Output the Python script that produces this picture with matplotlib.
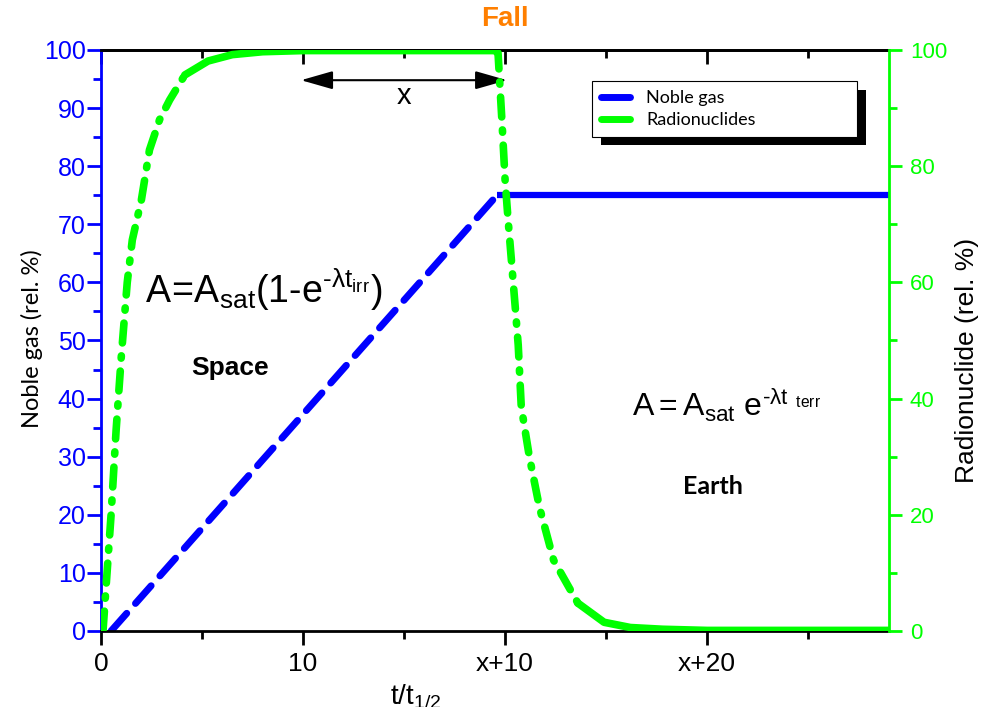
import matplotlib
matplotlib.use("Agg")
import matplotlib.pyplot as plt
from matplotlib.patches import Rectangle
from matplotlib.lines import Line2D
from matplotlib.ticker import MultipleLocator

# ── Data ──
noble_t = [0.5, 19.6, 39.0]
noble_v = [0.0, 75.0, 75.0]

radio_t = [0.1, 0.3, 0.5, 0.75, 1.0, 1.3, 1.55, 2.0, 2.4, 2.9, 3.4, 4.15,
           5.3, 6.5, 8.0, 10.0, 19.5,
           19.65, 19.85, 20.0, 20.15, 20.5, 20.65, 20.8, 21.2, 21.7, 22.4, 23.6,
           24.9, 26.2, 27.8, 30.0, 39.0]
radio_v = [0.0, 10.0, 20.0, 34.6, 47.0, 60.0, 67.3, 74.2, 82.8, 88.0, 91.4, 95.7,
           98.1, 99.2, 99.7, 99.9, 99.9,
           99.5, 87.4, 77.6, 70.7, 55.8, 49.2, 38.6, 30.0, 21.3, 12.2, 4.8,
           1.5, 0.6, 0.3, 0.1, 0.1]

x_ticks = [0, 10, 20, 30]
x_tick_labels = ["0", "10", "x+10", "x+20"]

BLUE = "#0000FF"
GREEN = "#00FF00"
ORANGE = "#FF7F00"

plt.rcParams["font.family"] = ["Liberation Sans", "DejaVu Sans"]
plt.rcParams["mathtext.fontset"] = "custom"
plt.rcParams["mathtext.rm"] = "Liberation Sans"
plt.rcParams["mathtext.it"] = "Liberation Sans:italic"
plt.rcParams["mathtext.bf"] = "Liberation Sans:bold"

fig = plt.figure(figsize=(9.89, 7.07), dpi=100)
ax = fig.add_axes([0.1021, 0.1075, 0.7968, 0.8218])
ax2 = ax.twinx()

# ── Noble gas: dashed rise, solid plateau ──
ax.plot(noble_t[:2], noble_v[:2], color=BLUE, lw=5, dashes=(3.4, 1.9),
        dash_capstyle="round", solid_capstyle="round")
ax.plot(noble_t[1:], noble_v[1:], color=BLUE, lw=4.5, solid_capstyle="butt")

# ── Radionuclides: dash-dot where the curve is steep, solid elsewhere ──
pieces = [(0, 12, True), (11, 17, False), (16, 28, True), (27, len(radio_t), False)]
for i0, i1, dashed in pieces:
    if dashed:
        ax2.plot(radio_t[i0:i1], radio_v[i0:i1], color=GREEN, lw=5.5,
                 dashes=(2.6, 1.7, 0.3, 1.7), dash_capstyle="round")
    else:
        ax2.plot(radio_t[i0:i1], radio_v[i0:i1], color=GREEN, lw=5.5,
                 solid_capstyle="round")

# ── Axes limits and ticks ──
ax.set_xlim(0, 39)
ax.set_ylim(0, 100)
ax2.set_ylim(0, 100)

ax.set_xticks(x_ticks)
ax.set_xticklabels(x_tick_labels)
ax.xaxis.set_minor_locator(MultipleLocator(5))
ax.tick_params(axis="x", which="both", direction="out", colors="black",
               labelsize=19, width=2, pad=5)
ax.tick_params(axis="x", which="major", length=10)
ax.tick_params(axis="x", which="minor", length=6)

ax.yaxis.set_major_locator(MultipleLocator(10))
ax.yaxis.set_minor_locator(MultipleLocator(5))
ax.tick_params(axis="y", which="both", direction="out", colors=BLUE,
               labelsize=18, width=2, pad=1)
ax.tick_params(axis="y", which="major", length=10)
ax.tick_params(axis="y", which="minor", length=6)

ax2.yaxis.set_major_locator(MultipleLocator(20))
ax2.yaxis.set_minor_locator(MultipleLocator(10))
ax2.tick_params(axis="y", which="both", direction="out", colors=GREEN,
                labelsize=16, width=2, pad=6)
ax2.tick_params(axis="y", which="major", length=9)
ax2.tick_params(axis="y", which="minor", length=6)

top = ax.secondary_xaxis("top")
top.set_xticks(x_ticks)
top.xaxis.set_minor_locator(MultipleLocator(5))
top.tick_params(axis="x", which="both", direction="in", labeltop=False, width=2)
top.tick_params(axis="x", which="major", length=10)
top.tick_params(axis="x", which="minor", length=6)

ax.spines["left"].set_color(BLUE)
ax.spines["right"].set_visible(False)
for s in ["left", "bottom", "top"]:
    ax.spines[s].set_linewidth(2)
for s in ["left", "top", "bottom"]:
    ax2.spines[s].set_visible(False)
ax2.spines["right"].set_color(GREEN)
ax2.spines["right"].set_linewidth(2)
top.spines["top"].set_linewidth(2)

# ── Axis labels and title ──
ax.set_ylabel("Noble gas (rel. %)", family=["Lato", "DejaVu Sans"], fontsize=17)
ax.yaxis.set_label_coords(-0.074, 0.503)
ax2.set_ylabel("Radionuclide (rel. %)", fontsize=19)
ax2.yaxis.set_label_coords(1.084, 0.466)
fig.text(0.42, 0.003, r"$\mathrm{t/t_{1/2}}$", fontsize=20, ha="center", va="baseline")
fig.text(505 / 989, 1 - 19 / 707, "Fall", color=ORANGE, fontweight="bold",
         fontsize=20, ha="center", va="center")

# ── Annotations ──
ax.annotate("", xy=(9.9, 94.8), xytext=(20.1, 94.8),
            arrowprops=dict(arrowstyle="<|-|>,head_length=0.49,head_width=0.14",
                            color="black", lw=1.5, mutation_scale=40,
                            shrinkA=0, shrinkB=0))
ax.text(15, 92.0, "x", fontsize=21, ha="center", va="center")
ax.text(2.2, 58.7, r"$\mathrm{A\!=\!A_{sat}(1\text{-}e^{\text{-}\lambda t_{irr}})}$",
        fontsize=27, ha="left", va="center")
ax.text(6.4, 45.2, "Space", fontweight="bold", fontsize=19, ha="center", va="center")
ax.text(26.3, 38.9, r"$\mathrm{A = A_{sat}\ e^{\text{-}\lambda t_{\ \ terr}}}$",
        fontsize=23, ha="left", va="center")
ax.text(30.3, 24.8, "Earth", fontweight="bold", fontsize=18,
        family=["Lato", "DejaVu Sans"], ha="center", va="center")

# ── Legend with a hard black drop shadow ──
handles = [Line2D([], [], color=BLUE, lw=5, solid_capstyle="round"),
           Line2D([], [], color=GREEN, lw=5, solid_capstyle="round")]
leg = ax2.legend(handles, ["Noble gas", "Radionuclides"], loc="upper left",
                 bbox_to_anchor=(0.623, 0.9466, 0.336, 0.0), mode="expand",
                 borderaxespad=0, fancybox=False, framealpha=1, edgecolor="black",
                 prop={"family": ["Lato", "DejaVu Sans"], "size": 13},
                 handlelength=1.6, handletextpad=0.9, borderpad=0.5,
                 labelspacing=0.35)
leg.get_frame().set_linewidth(0.8)
leg.set_zorder(6)
ax2.add_patch(Rectangle((0.6345, 0.8365), 0.3365, 0.095, transform=ax2.transAxes,
                        facecolor="black", edgecolor="none", zorder=5, clip_on=False))

fig.savefig("out.png", dpi=100)
